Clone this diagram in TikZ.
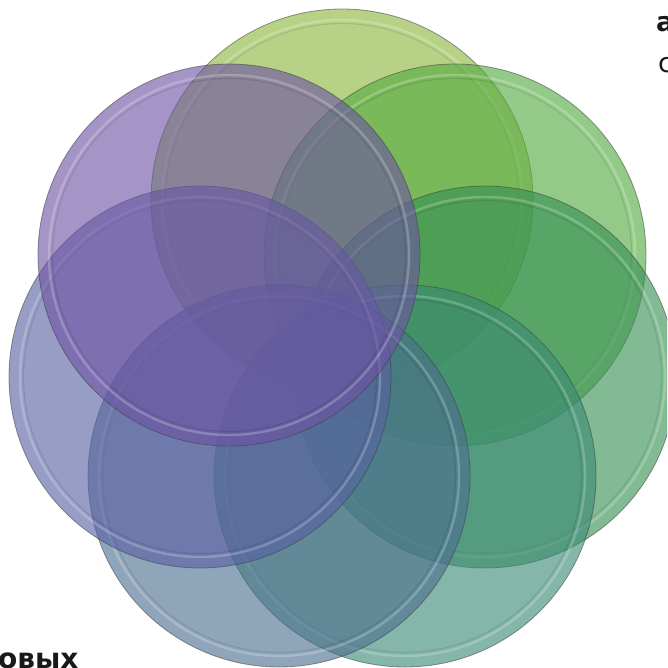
\documentclass[tikz,border=0pt]{standalone}
\usepackage{fontspec}
\setmainfont{DejaVu Sans}
\definecolor{cA}{HTML}{8AB63C}
\definecolor{cB}{HTML}{53AA3F}
\definecolor{cC}{HTML}{358F53}
\definecolor{cD}{HTML}{398975}
\definecolor{cE}{HTML}{4B6E8F}
\definecolor{cF}{HTML}{5861A3}
\definecolor{cG}{HTML}{6E53A3}
\begin{document}
\begin{tikzpicture}[x=1pt,y=-1pt,
  disc/.style={circle, minimum size=382pt, inner sep=0pt, fill=#1, fill opacity=0.62,
    draw=black!75, draw opacity=0.55, line width=0.8pt},
  rimlight/.style={draw=white, opacity=0.22, line width=2.4pt},
  rimdark/.style={draw=black, opacity=0.10, line width=1.2pt},
  lbl/.style={inner sep=0pt, anchor=base west, text=black!90}]
\useasboundingbox (0,0) rectangle (667,668);
\clip (0,0) rectangle (667,668);
\foreach \n/\cx/\cy/\col in {1/342/200/cA, 2/455/255/cB, 3/485/377/cC, 4/405/476/cD, 5/279/476/cE, 6/200/377/cF, 7/229/255/cG}{
  \node[disc=\col] (c\n) at (\cx,\cy) {};
  \draw[rimlight] (c\n.center) circle (180);
  \draw[rimdark] (c\n.center) circle (176.5);
}
\node[lbl, font=\bfseries\fontsize{27}{31}\selectfont] (ta) at (656,32) {а};
\node[lbl, font=\fontsize{27}{31}\selectfont] (tc) at (658,73) {с};
\node[lbl, font=\bfseries\fontsize{28}{32}\selectfont] (tb) at (-2,668) {овых};
\end{tikzpicture}
\end{document}
